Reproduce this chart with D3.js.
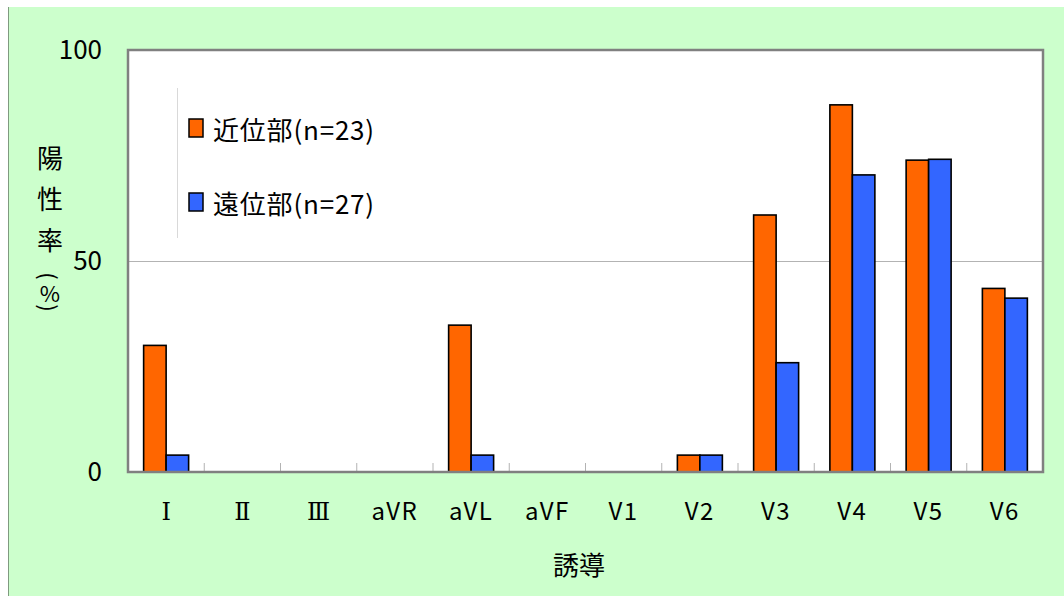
<!DOCTYPE html>
<html>
<head>
<meta charset="utf-8">
<script src="https://cdn.jsdelivr.net/npm/d3@7/dist/d3.min.js"></script>
<style>
  html, body { margin: 0; padding: 0; background: #ffffff; }
  svg { display: block; }
  text { fill: #000; }
</style>
</head>
<body>
<svg id="chart" width="1064" height="596" font-family="'Noto Sans CJK JP', 'Noto Sans', sans-serif"></svg>
<script>
// 誘導ごとの陽性率（%）
const categories = ["Ⅰ", "Ⅱ", "Ⅲ", "aVR", "aVL", "aVF", "V1", "V2", "V3", "V4", "V5", "V6"];
const seriesNames = ["近位部(n=23)", "遠位部(n=27)"];
const proximal = [30.0, 0, 0, 0, 34.8, 0, 0, 4.0, 60.9, 87.0, 73.9, 43.5];
const distal   = [4.0, 0, 0, 0, 4.0, 0, 0, 4.0, 25.9, 70.4, 74.1, 41.2];
const yTicks = [0, 50, 100];
const yTitle = ["陽", "性", "率"];
const xTitle = "誘導";

const colors = ["#FF6600", "#3366FF"];
const romanNumerals = new Set(["Ⅰ", "Ⅱ", "Ⅲ"]);
const sansFont = "'Noto Sans CJK JP', 'Noto Sans', sans-serif";
const serifFont = "'DejaVu Serif', 'Liberation Serif', serif";

const svg = d3.select("#chart");
const W = 1064, H = 596;
const plot = { left: 128, top: 50, right: 1043, bottom: 472 };

// chart area background
svg.append("rect").attr("x", 8).attr("y", 7).attr("width", W).attr("height", H)
  .attr("fill", "#CCFFCC");
svg.append("line").attr("x1", 8.5).attr("x2", 8.5).attr("y1", 7).attr("y2", H)
  .attr("stroke", "#7f9a7f").attr("stroke-width", 1);

// plot area
svg.append("rect")
  .attr("x", plot.left).attr("y", plot.top)
  .attr("width", plot.right - plot.left).attr("height", plot.bottom - plot.top)
  .attr("fill", "#ffffff");

const x = d3.scaleBand().domain(categories).range([plot.left, plot.right]).paddingInner(0).paddingOuter(0);
const bw = x.bandwidth();
const x1 = d3.scaleBand().domain(seriesNames).range([bw * 0.205, bw * 0.795]).padding(0);
const y = d3.scaleLinear().domain([0, 100]).range([plot.bottom, plot.top]);

// gridline
svg.append("g").selectAll("line").data(yTicks.filter(d => d > 0 && d < 100)).join("line")
  .attr("x1", plot.left).attr("x2", plot.right)
  .attr("y1", d => y(d) + 0.5).attr("y2", d => y(d) + 0.5)
  .attr("stroke", "#b3b3b3").attr("stroke-width", 1);

// category separators on the baseline
svg.append("g").selectAll("line").data(categories.slice(1)).join("line")
  .attr("x1", d => x(d)).attr("x2", d => x(d))
  .attr("y1", plot.bottom).attr("y2", plot.bottom - 9)
  .attr("stroke", "#b3b3b3").attr("stroke-width", 1);

// bars
const rows = categories.map((c, i) => ({ c, vals: [proximal[i], distal[i]] }));
const groups = svg.append("g").selectAll("g").data(rows).join("g")
  .attr("transform", d => `translate(${x(d.c)},0)`);
groups.selectAll("rect")
  .data(d => d.vals.map((v, j) => ({ v, j })).filter(e => e.v > 0))
  .join("rect")
  .attr("x", e => x1(seriesNames[e.j]))
  .attr("y", e => y(e.v))
  .attr("width", x1.bandwidth())
  .attr("height", e => y(0) - y(e.v))
  .attr("fill", e => colors[e.j])
  .attr("stroke", "#000").attr("stroke-width", 1.6);

// plot border
svg.append("rect")
  .attr("x", plot.left).attr("y", plot.top)
  .attr("width", plot.right - plot.left).attr("height", plot.bottom - plot.top)
  .attr("fill", "none").attr("stroke", "#808080").attr("stroke-width", 2.5);

// y axis labels
const yAxis = d3.axisLeft(y).tickValues(yTicks).tickSize(0).tickPadding(26).tickFormat(d3.format("d"));
const gy = svg.append("g").attr("transform", `translate(${plot.left},0)`).call(yAxis);
gy.select(".domain").remove();
gy.selectAll("text").style("font-size", "26px").style("font-family", sansFont).attr("fill", "#000");

// x axis labels
const xAxis = d3.axisBottom(x).tickSize(0).tickPadding(31);
const gx = svg.append("g").attr("transform", `translate(0,${plot.bottom})`).call(xAxis);
gx.select(".domain").remove();
gx.selectAll("text")
  .style("font-size", d => romanNumerals.has(d) ? "24px" : "24px")
  .style("font-family", d => romanNumerals.has(d) ? serifFont : sansFont)
  .attr("letter-spacing", d => romanNumerals.has(d) ? 0 : 1.5)
  .attr("fill", "#000");

// axis titles
svg.append("text").attr("x", 579).attr("y", 563).attr("text-anchor", "middle")
  .attr("dominant-baseline", "central").style("font-size", "26px").text(xTitle);

const ty = svg.append("g").style("font-family", sansFont);
yTitle.forEach((ch, i) => {
  ty.append("text").attr("x", 50).attr("y", 156 + i * 41)
    .attr("text-anchor", "middle").attr("dominant-baseline", "central")
    .style("font-size", "26px").text(ch);
});
// vertical parentheses around the unit
ty.append("text").attr("transform", "translate(50,276) rotate(90)").attr("text-anchor", "middle")
  .attr("dominant-baseline", "central").style("font-size", "22px").text("(");
ty.append("text").attr("x", 50).attr("y", 292).attr("text-anchor", "middle")
  .attr("dominant-baseline", "central").style("font-size", "22px").text("%");
ty.append("text").attr("transform", "translate(50,308) rotate(90)").attr("text-anchor", "middle")
  .attr("dominant-baseline", "central").style("font-size", "22px").text(")");

// legend
svg.append("line").attr("x1", 177.5).attr("x2", 177.5).attr("y1", 88).attr("y2", 238)
  .attr("stroke", "#d9d9d9").attr("stroke-width", 1);
const lg = svg.append("g").selectAll("g").data(seriesNames).join("g")
  .attr("transform", (d, i) => `translate(189,${128 + i * 74})`);
lg.append("rect").attr("x", 0).attr("y", -9).attr("width", 14).attr("height", 18)
  .attr("fill", (d, i) => colors[i]).attr("stroke", "#000").attr("stroke-width", 1.5);
lg.append("text").attr("x", 24).attr("y", 0).attr("dominant-baseline", "central")
  .style("font-size", "26px").attr("letter-spacing", 0.8).text(d => d);
</script>
</body>
</html>
